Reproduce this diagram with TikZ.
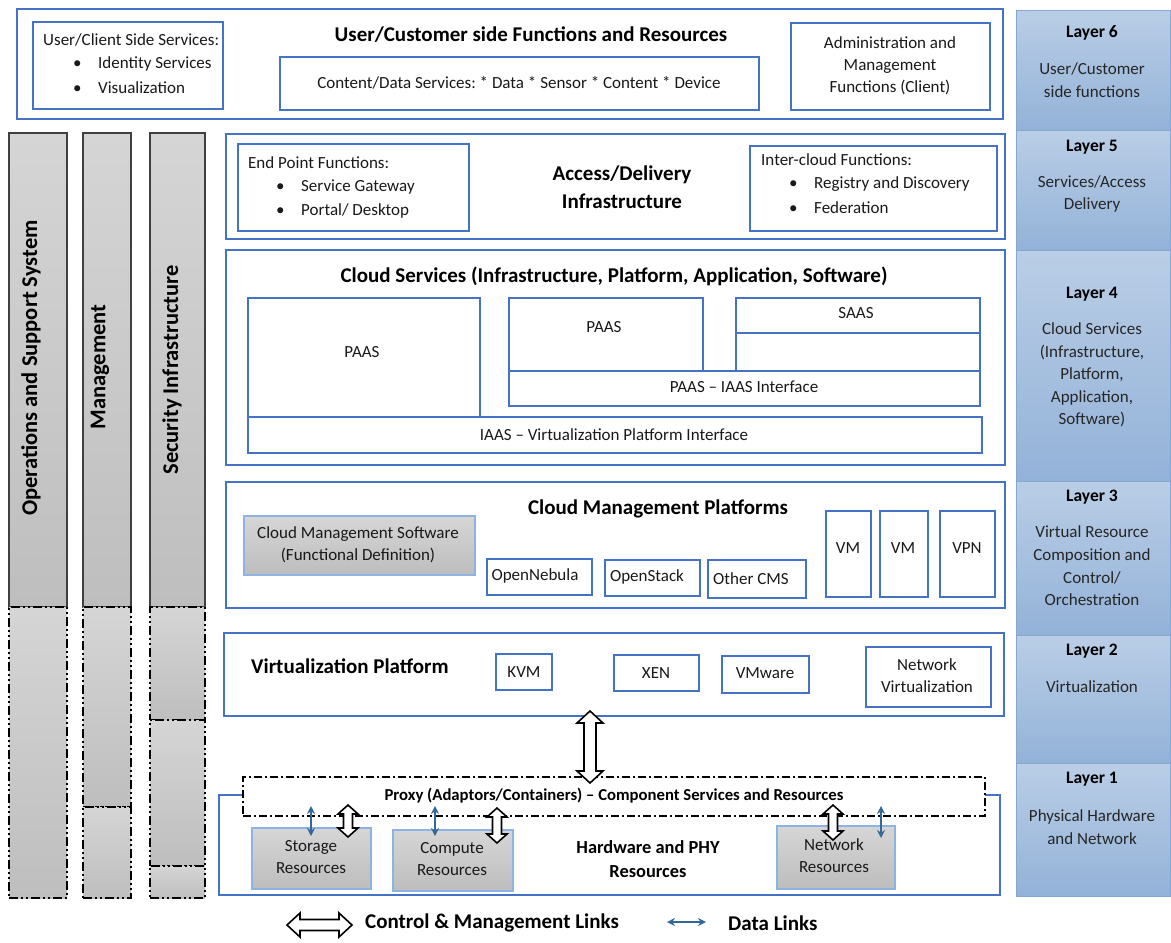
\documentclass[tikz,border=0pt]{standalone}
\usepackage{fontspec}
\setmainfont{Carlito}
\usetikzlibrary{calc,arrows.meta}
\frenchspacing

\definecolor{frame}{HTML}{4472C4}
\definecolor{grayedge}{HTML}{8DB3E2}
\definecolor{grayhi}{HTML}{D6D6D6}
\definecolor{graylo}{HTML}{BDBDBD}
\definecolor{coltop}{HTML}{D5D5D5}
\definecolor{colbot}{HTML}{BEBEBE}
\definecolor{laytop}{HTML}{BACEE6}
\definecolor{laybot}{HTML}{93B2D8}
\definecolor{layedge}{HTML}{86A6D4}
\definecolor{datablue}{HTML}{33689B}

% rectangle given by its corners: \rbox[style]{name}{x1}{y1}{x2}{y2}
\newcommand\rbox[6][]{\node[#1, minimum width={#5-#3}, minimum height={#6-#4}] (#2) at ({(#3+#5)/2},{(#4+#6)/2}) {};}
\newcommand\bulitem{\makebox[25pt][l]{\textbullet}}

% hollow double arrows: shaft half width, head half width, head length, end, end
\newcommand\hollowV[5]{\draw[harrow] let \p1=#4, \p2=#5 in
  (\x1,\y1) -- (\x1+#2pt,\y1-#3pt) -- (\x1+#1pt,\y1-#3pt) -- (\x2+#1pt,\y2+#3pt) -- (\x2+#2pt,\y2+#3pt) -- (\x2,\y2)
  -- (\x2-#2pt,\y2+#3pt) -- (\x2-#1pt,\y2+#3pt) -- (\x1-#1pt,\y1-#3pt) -- (\x1-#2pt,\y1-#3pt) -- cycle;}
\newcommand\hollowH[5]{\draw[harrow] let \p1=#4, \p2=#5 in
  (\x1,\y1) -- (\x1+#3pt,\y1+#2pt) -- (\x1+#3pt,\y1+#1pt) -- (\x2-#3pt,\y2+#1pt) -- (\x2-#3pt,\y2+#2pt) -- (\x2,\y2)
  -- (\x2-#3pt,\y2-#2pt) -- (\x2-#3pt,\y2-#1pt) -- (\x1+#3pt,\y1-#1pt) -- (\x1+#3pt,\y1-#2pt) -- cycle;}

\begin{document}
\begin{tikzpicture}[x=1pt,y=-1pt,
  outer/.style={draw=frame, line width=2.4pt, inner sep=0pt, outer sep=0pt},
  inner/.style={draw=frame, line width=1.2pt, inner sep=0pt, outer sep=0pt},
  grayb/.style={draw=grayedge, line width=1.2pt, top color=grayhi, bottom color=graylo, inner sep=0pt},
  col/.style={draw=black!75, line width=1.4pt, top color=coltop, bottom color=colbot, inner sep=0pt},
  ddash/.style={draw=black, line width=1.8pt, dash pattern=on 9pt off 3pt on 2pt off 3pt on 2pt off 3pt,
    top color=coltop, bottom color=colbot, inner sep=0pt},
  proxy/.style={draw=black, line width=1.2pt, fill=white, dash pattern=on 8pt off 3pt on 2pt off 3pt, inner sep=0pt},
  layer/.style={draw=layedge, line width=1pt, top color=laytop, bottom color=laybot, inner sep=0pt},
  body/.style={font=\fontsize{17}{22}\selectfont, inner sep=0pt, align=center, text=black!90},
  bodyl/.style={body, anchor=west, align=left},
  laytxt/.style={font=\fontsize{17}{22.6}\selectfont, inner sep=0pt, align=center, text=black!85},
  laybold/.style={font=\fontsize{17.5}{20}\selectfont\bfseries, inner sep=0pt},
  head/.style={font=\fontsize{21}{28}\selectfont\bfseries, inner sep=0pt, align=center},
  subhead/.style={font=\fontsize{18.4}{24}\selectfont\bfseries, inner sep=0pt, align=center},
  colt/.style={font=\fontsize{22.5}{24}\selectfont\bfseries, inner sep=0pt, rotate=90},
  harrow/.style={draw=black, fill=white, line width=1.6pt, line join=miter},
  data/.style={draw=datablue, line width=1.7pt, {Stealth[length=8pt,width=8pt]}-{Stealth[length=8pt,width=8pt]}}
]
\useasboundingbox[fill=white] (0,0) rectangle (1171,943);

% ---- vertical cross-layer columns ----
\rbox[col]{c1top}{9}{133}{67}{607}
\rbox[ddash]{c1bot}{9}{607}{67}{898}
\rbox[col]{c2top}{83}{133}{131}{607}
\rbox[ddash]{c2mid}{83}{607}{131}{807}
\rbox[ddash]{c2bot}{83}{807}{131}{898}
\rbox[col]{c3top}{150}{133}{205}{607}
\rbox[ddash]{c3a}{150}{607}{205}{720}
\rbox[ddash]{c3b}{150}{720}{205}{866}
\rbox[ddash]{c3c}{150}{866}{205}{898}
\node[colt] (c1t) at (31,368) {Operations and Support System};
\node[colt] (c2t) at (100,367) {Management};
\node[colt] (c3t) at (172,370) {Security Infrastructure};

% ---- user / customer side ----
\rbox[outer]{L6}{17}{9}{1003}{119}
\rbox[inner]{ucs}{33}{22}{223}{109}
\node[bodyl] (ucsT) at (43,40) {User/Client Side Services:};
\node[bodyl] (ucs1) at (73,64) {\bulitem Identity Services};
\node[bodyl] (ucs2) at (73,88) {\bulitem Visualization};
\node[head] (L6t) at (531,35) {User/Customer side Functions and Resources};
\rbox[inner]{cds}{280}{57}{759}{110}
\node[body] (cdsT) at (519,83) {Content/Data Services: * Data * Sensor * Content * Device};
\rbox[inner]{adm}{791}{23}{990}{110}
\node[body] (admT) at (890,66) {Administration and\\Management\\Functions (Client)};

% ---- access / delivery ----
\rbox[outer]{L5}{226}{134}{1005}{239}
\rbox[inner]{epf}{238}{144}{469}{231}
\node[bodyl] (epfT) at (248,163) {End Point Functions:};
\node[bodyl] (epf1) at (276,187) {\bulitem Service Gateway};
\node[bodyl] (epf2) at (276,211) {\bulitem Portal/ Desktop};
\node[head] (L5t) at (622,187) {Access/Delivery\\Infrastructure};
\rbox[inner]{icf}{750}{146}{997}{231}
\node[bodyl] (icfT) at (761,160) {Inter-cloud Functions:};
\node[bodyl] (icf1) at (789,184) {\bulitem Registry and Discovery};
\node[bodyl] (icf2) at (789,208) {\bulitem Federation};

% ---- cloud services ----
\rbox[outer]{L4}{226}{250}{1005}{465}
\node[head] (L4t) at (614,276) {Cloud Services (Infrastructure, Platform, Application, Software)};
\rbox[inner]{paasA}{248}{298}{480}{417}
\node[body] (paasAt) at (362,352) {PAAS};
\rbox[inner]{paasB}{509}{298}{703}{371}
\node[body] (paasBt) at (604,327) {PAAS};
\rbox[inner]{saas}{736}{298}{980}{333}
\node[body] (saast) at (856,313) {SAAS};
\rbox[inner]{saasb}{736}{333}{980}{371}
\rbox[inner]{pii}{509}{371}{980}{406}
\node[body] (piit) at (744,387) {PAAS – IAAS Interface};
\rbox[inner]{ivpi}{248}{417}{982}{453}
\node[body] (ivpit) at (614,435) {IAAS – Virtualization Platform Interface};

% ---- cloud management platforms ----
\rbox[outer]{L3}{226}{482}{1005}{608}
\node[head] (L3t) at (658,509) {Cloud Management Platforms};
\rbox[grayb]{cms}{244}{516}{475}{575}
\node[body] (cmst) at (358,545) {Cloud Management Software\\(Functional Definition)};
\rbox[inner]{onb}{487}{559}{592}{595}
\node[body] (onbt) at (535,576) {OpenNebula};
\rbox[inner]{ost}{605}{560}{700}{596}
\node[body] (ostt) at (647,577) {OpenStack};
\rbox[inner]{ocm}{708}{560}{806}{598}
\node[body] (ocmt) at (751,579) {Other CMS};
\rbox[inner]{vmA}{826}{511}{871}{597}
\node[body] (vmAt) at (848,548) {VM};
\rbox[inner]{vmB}{880}{511}{928}{597}
\node[body] (vmBt) at (903,548) {VM};
\rbox[inner]{vpn}{940}{511}{995}{597}
\node[body] (vpnt) at (967,548) {VPN};

% ---- virtualization platform ----
\rbox[outer]{L2}{224}{633}{1004}{716}
\node[head, anchor=west] (L2t) at (251,666) {Virtualization Platform};
\rbox[inner]{kvm}{496}{654}{552}{690}
\node[body] (kvmt) at (524,672) {KVM};
\rbox[inner]{xen}{614}{655}{699}{691}
\node[body] (xent) at (656,673) {XEN};
\rbox[inner]{vmw}{722}{656}{809}{693}
\node[body] (vmwt) at (765,673) {VMware};
\rbox[inner]{nv}{866}{647}{991}{707}
\node[body] (nvt) at (927,676) {Network\\Virtualization};

% ---- hardware and physical resources ----
\rbox[outer]{L1}{219}{795}{1000}{895}
\rbox[proxy]{prx}{243}{777}{985}{816}
\node[font=\fontsize{16.7}{20}\selectfont\bfseries, inner sep=0pt] (prxt) at (614,796) {Proxy (Adaptors/Containers) – Component Services and Resources};
\rbox[grayb]{sto}{252}{828}{371}{889}
\node[body] (stot) at (311,857) {Storage\\Resources};
\rbox[grayb]{cmp}{393}{830}{513}{891}
\node[body] (cmpt) at (452,859) {Compute\\Resources};
\node[subhead] (hwt) at (648,859) {Hardware and PHY\\Resources};
\rbox[grayb]{net}{777}{826}{895}{889}
\node[body] (nett) at (834,856) {Network\\Resources};

% ---- control & management links ----
\coordinate (vA) at (590,711);
\coordinate (vB) at (590,783);
\hollowV{6}{13}{12}{(vA)}{(vB)}
\coordinate (sA) at (348,805);
\coordinate (sB) at (348,837);
\hollowV{4.5}{10}{9}{(sA)}{(sB)}
\coordinate (cA) at (497,808);
\coordinate (cB) at (497,843);
\hollowV{4.5}{10}{9}{(cA)}{(cB)}
\coordinate (nA) at (833,805);
\coordinate (nB) at (833,840);
\hollowV{4.5}{10}{9}{(nA)}{(nB)}

% ---- data links ----
\coordinate (sdA) at (311,806);
\coordinate (sdB) at (311,836);
\draw[data] (sdA) -- (sdB);
\coordinate (cdA) at (435,806);
\coordinate (cdB) at (435,836);
\draw[data] (cdA) -- (cdB);
\coordinate (ndA) at (881,806);
\coordinate (ndB) at (881,838);
\draw[data] (ndA) -- (ndB);

% ---- legend ----
\coordinate (lgA) at (287,925);
\coordinate (lgB) at (352,925);
\hollowH{5.5}{12}{13}{(lgA)}{(lgB)}
\node[anchor=west, font=\fontsize{21}{24}\selectfont\bfseries, inner sep=0pt] (lgt1) at (365,923) {Control \& Management Links};
\coordinate (ldA) at (667,922);
\coordinate (ldB) at (706,922);
\draw[data] (ldA) -- (ldB);
\node[anchor=west, font=\fontsize{21}{24}\selectfont\bfseries, inner sep=0pt] (lgt2) at (728,923) {Data Links};

% ---- layer column ----
\rbox[layer]{ly6}{1016}{10}{1170}{130}
\rbox[layer]{ly5}{1016}{130}{1170}{250}
\rbox[layer]{ly4}{1016}{250}{1170}{481}
\rbox[layer]{ly3}{1016}{481}{1170}{635}
\rbox[layer]{ly2}{1016}{635}{1170}{763}
\rbox[layer]{ly1}{1016}{763}{1170}{896}
\node[laybold] (ly6h) at (1092,33) {Layer 6};
\node[laytxt] (ly6d) at (1092,80) {User/Customer\\side functions};
\node[laybold] (ly5h) at (1092,147) {Layer 5};
\node[laytxt] (ly5d) at (1092,194) {Services/Access\\Delivery};
\node[laybold] (ly4h) at (1092,294) {Layer 4};
\node[laytxt] (ly4d) at (1092,375) {Cloud Services\\(Infrastructure,\\Platform,\\Application,\\Software)};
\node[laybold] (ly3h) at (1092,497) {Layer 3};
\node[laytxt] (ly3d) at (1092,566) {Virtual Resource\\Composition and\\Control/\\Orchestration};
\node[laybold] (ly2h) at (1092,651) {Layer 2};
\node[laytxt] (ly2d) at (1092,687) {Virtualization};
\node[laybold] (ly1h) at (1092,779) {Layer 1};
\node[laytxt] (ly1d) at (1092,827) {Physical Hardware\\and Network};
\end{tikzpicture}
\end{document}
